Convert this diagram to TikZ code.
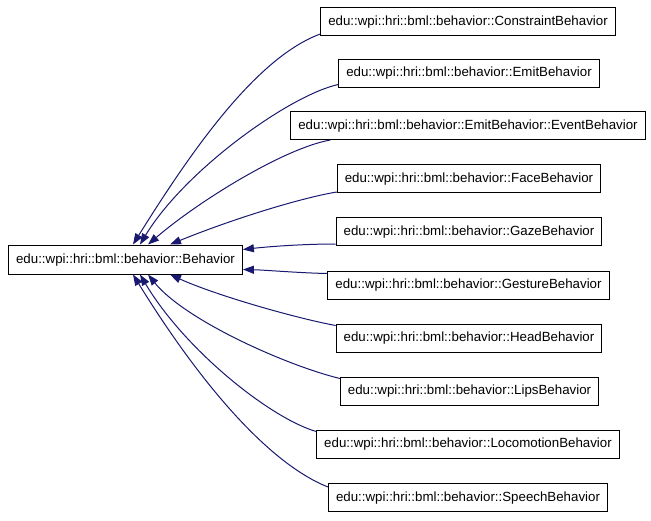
\documentclass[tikz,border=0pt]{standalone}
\usepackage{fontspec}
\setmainfont{Liberation Sans}
\usetikzlibrary{arrows.meta,calc}
\definecolor{edgeblue}{HTML}{191970}
\begin{document}
\begin{tikzpicture}[x=1pt,y=-1pt,
  cls/.style={draw=black,line width=1pt,fill=white,minimum height=28pt,inner xsep=7.5pt,inner ysep=0pt,font=\fontsize{13.3}{16}\selectfont,text height=9.8pt,text depth=2.8pt},
  edge/.style={draw=edgeblue,line width=1pt,-{Triangle[length=11pt,width=8pt]}}]
\useasboundingbox (0,0) rectangle (651,520);
\fill[white] (0,0) rectangle (651,520);
\node[cls,minimum height=29pt] (base) at (125.5,259.5) {edu::wpi::hri::bml::behavior::Behavior};
\node[cls] (c1) at (468,21.5) {edu::wpi::hri::bml::behavior::ConstraintBehavior};
\node[cls] (c2) at (469,73) {edu::wpi::hri::bml::behavior::EmitBehavior};
\node[cls] (c3) at (468,125.5) {edu::wpi::hri::bml::behavior::EmitBehavior::EventBehavior};
\node[cls] (c4) at (469,178.5) {edu::wpi::hri::bml::behavior::FaceBehavior};
\node[cls] (c5) at (469,231.5) {edu::wpi::hri::bml::behavior::GazeBehavior};
\node[cls] (c6) at (468.5,285) {edu::wpi::hri::bml::behavior::GestureBehavior};
\node[cls] (c7) at (469,338) {edu::wpi::hri::bml::behavior::HeadBehavior};
\node[cls] (c8) at (469.5,391) {edu::wpi::hri::bml::behavior::LipsBehavior};
\node[cls] (c9) at (468,444) {edu::wpi::hri::bml::behavior::LocomotionBehavior};
\node[cls] (c10) at (468,497.5) {edu::wpi::hri::bml::behavior::SpeechBehavior};
% edges to top of base
\draw[edge] ([yshift=2pt]c1.south west) .. controls (258,57) and (195,145) .. ([xshift=7.5pt]base.north);
\draw[edge] ([yshift=3pt]c2.south west) .. controls (290,95) and (185,170) .. ([xshift=14.5pt]base.north);
\draw[edge] ([xshift=40pt]c3.south west) .. controls (285,148) and (200,200) .. ([xshift=22.5pt]base.north);
\draw[edge] ([yshift=1pt]c4.south west) .. controls (300,198) and (230,220) .. ([xshift=44.5pt]base.north);
% edges to right side
\draw[edge] ([yshift=2pt]c5.south west) .. controls (300,244) and (265,247) .. ([yshift=10pt]base.east);
\draw[edge] ([yshift=-3pt]c6.north west) .. controls (300,273) and (265,270) .. ([yshift=-10pt]base.east);
% edges to bottom
\draw[edge] ([yshift=-2pt]c7.north west) .. controls (295,318) and (215,295) .. ([xshift=44.5pt]base.south);
\draw[edge] ([yshift=-2pt]c8.north west) .. controls (285,365) and (185,320) .. ([xshift=22.5pt]base.south);
\draw[edge] ([yshift=-2pt]c9.north west) .. controls (270,418) and (185,350) .. ([xshift=14.5pt]base.south);
\draw[edge] ([yshift=-4pt]c10.north west) .. controls (265,462) and (195,375) .. ([xshift=7.5pt]base.south);
\end{tikzpicture}
\end{document}
